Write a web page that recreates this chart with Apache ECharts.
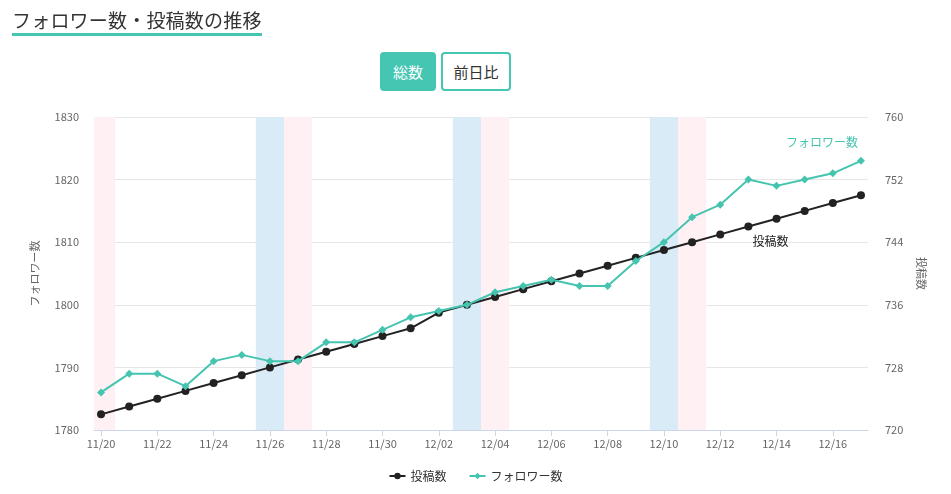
<!DOCTYPE html>
<html><head><meta charset="utf-8">
<script src="https://cdn.jsdelivr.net/npm/echarts@6/dist/echarts.min.js"></script>
<style>
html,body{margin:0;padding:0;background:#fff;font-family:"Noto Sans CJK JP","Noto Sans",sans-serif;}
#chart{position:absolute;left:0;top:0;width:951px;height:494px;}
#title{position:absolute;left:12px;top:7px;font-size:19px;letter-spacing:0.2px;color:#333;line-height:25px;padding-bottom:1px;border-bottom:3px solid #45c6b3;white-space:nowrap;z-index:2;}
.btn{position:absolute;top:52px;height:39px;box-sizing:border-box;border-radius:4px;font-size:15px;line-height:35px;text-align:center;z-index:2;}
#b1{left:380px;width:56px;background:#45c6b3;color:#fff;border:2px solid #45c6b3;}
#b2{left:441px;width:70px;background:#fff;color:#333;border:2px solid #45c6b3;}
</style></head>
<body>
<div id="chart"></div>
<div id="title">フォロワー数・投稿数の推移</div>
<div class="btn" id="b1">総数</div>
<div class="btn" id="b2">前日比</div>
<script>
const categories = ['11/20','11/21','11/22','11/23','11/24','11/25','11/26','11/27','11/28','11/29','11/30',
  '12/01','12/02','12/03','12/04','12/05','12/06','12/07','12/08','12/09','12/10','12/11','12/12','12/13','12/14','12/15','12/16','12/17'];
const posts = [722,723,724,725,726,727,728,729,730,731,732,733,735,736,737,738,739,740,741,742,743,744,745,746,747,748,749,750];
const followers = [1786,1789,1789,1787,1791,1792,1791,1791,1794,1794,1796,1798,1799,1800,1802,1803,1804,1803,1803,1807,1810,1814,1816,1820,1819,1820,1821,1823];
const saturdayIdx = [6,13,20];
const sundayIdx = [0,7,14,21];
const leftTicks = {min:1780,max:1830,interval:10};
const rightTicks = {min:720,max:760,interval:8};
const labelIdx = categories.map((c,i)=>i).filter(i=>i%2===0);

const FONT = '"Noto Sans CJK JP","Noto Sans",sans-serif';
const GREEN = '#45c4b0';
const BLACK = '#222222';
const xMin = -0.25, xMax = categories.length - 1 + 0.25;

function band(i, color){
  return [{xAxis: Math.max(xMin, i-0.5), itemStyle:{color:color}}, {xAxis: Math.min(xMax, i+0.5)}];
}
const areas = saturdayIdx.map(i=>band(i,'#d9ebf6')).concat(sundayIdx.map(i=>band(i,'#fff0f3')));

const chart = echarts.init(document.getElementById('chart'));
chart.setOption({
  animation:false,
  textStyle:{fontFamily:FONT},
  grid:{left:94,right:83,top:117,bottom:64,containLabel:false},
  legend:{bottom:7,left:'center',itemWidth:16,itemHeight:8,itemGap:22,
    textStyle:{fontSize:12,color:'#333',fontFamily:FONT},
    data:['投稿数','フォロワー数']},
  xAxis:{type:'value',min:xMin,max:xMax,
    axisLine:{lineStyle:{color:'#ccd6eb'}},
    axisTick:{show:true,length:6,lineStyle:{color:'#ccd6eb'},customValues:labelIdx},
    axisLabel:{customValues:labelIdx,formatter:v=>categories[Math.round(v)],color:'#666',fontSize:11,margin:8,fontFamily:FONT},
    splitLine:{show:false}},
  yAxis:[
    {type:'value',min:leftTicks.min,max:leftTicks.max,interval:leftTicks.interval,
     name:'フォロワー数',nameLocation:'middle',nameGap:54,nameRotate:90,
     nameTextStyle:{color:'#666',fontSize:11,fontFamily:FONT},
     axisLine:{show:false},axisTick:{show:false},
     axisLabel:{color:'#666',fontSize:11,margin:15,fontFamily:FONT,formatter:v=>String(v)},
     splitLine:{lineStyle:{color:'#e6e6e6'}}},
    {type:'value',min:rightTicks.min,max:rightTicks.max,interval:rightTicks.interval,position:'right',
     name:'投稿数',nameLocation:'middle',nameGap:48,nameRotate:-90,
     nameTextStyle:{color:'#666',fontSize:11,fontFamily:FONT},
     axisLine:{show:false},axisTick:{show:false},
     axisLabel:{color:'#666',fontSize:11,margin:17,fontFamily:FONT,formatter:v=>String(v)},
     splitLine:{show:false}}
  ],
  series:[
    {name:'投稿数',type:'line',yAxisIndex:1,
     data:posts.map((v,i)=>{
       const d={value:[i,v]};
       if(i===23) d.label={show:true,position:'bottom',offset:[22,0],formatter:'投稿数',color:BLACK,fontSize:12,fontFamily:FONT};
       return d;}),
     symbol:'circle',symbolSize:8,
     lineStyle:{color:BLACK,width:2},itemStyle:{color:BLACK},
     markArea:{silent:true,data:areas},z:2},
    {name:'フォロワー数',type:'line',yAxisIndex:0,
     data:followers.map((v,i)=>{
       const d={value:[i,v]};
       if(i===followers.length-1) d.label={show:true,position:'top',align:'right',offset:[-3,-3],formatter:'フォロワー数',color:GREEN,fontSize:12,fontFamily:FONT};
       return d;}),
     symbol:'diamond',symbolSize:8,
     lineStyle:{color:GREEN,width:2},itemStyle:{color:GREEN},z:3}
  ]
});
</script>
</body></html>
